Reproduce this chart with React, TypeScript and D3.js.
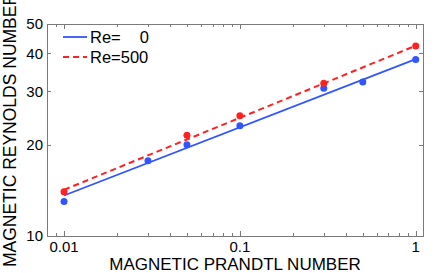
import React, { useEffect, useRef } from "react";
import * as d3 from "d3";

// magnetic Prandtl numbers of the runs
const pmRe0 = [0.01, 0.03, 0.05, 0.1, 0.3, 0.5, 1];
const rmRe0 = [13.0, 17.7, 20.0, 23.1, 30.7, 32.2, 38.2];
const pmRe500 = [0.01, 0.05, 0.1, 0.3, 1];
const rmRe500 = [14.0, 21.5, 24.9, 31.9, 42.3];

// power-law fits (endpoints)
const fitPm = [0.01, 1];
const fitRe0 = [13.6, 38.3];
const fitRe500 = [14.2, 42.4];

const xTicks = [0.01, 0.1, 1];
const xTickLabels = ["0.01", "0.1", "1"];
const yTicks = [10, 20, 30, 40, 50];
const legendLabels = ["Re=", "Re=500"];

const W = 436;
const H = 273;
const margin = { top: 24, right: 13, bottom: 37, left: 47 };
const FONT = "'Liberation Sans', Arial, Helvetica, sans-serif";
const BLUE = "#3154ff";
const RED = "#ff2020";
const FRAME = "#7a7a7a";

const App = () => {
  const ref = useRef<SVGSVGElement>(null);

  useEffect(() => {
    const svg = d3.select(ref.current);
    svg.selectAll("*").remove();

    const gw = W - margin.left - margin.right;
    const gh = H - margin.top - margin.bottom;

    const x = d3.scaleLog().domain([0.008, 1.1]).range([0, gw]);
    const y = d3.scaleLog().domain([10, 50]).range([gh, 0]);

    const g = svg.append("g").attr("transform", `translate(${margin.left},${margin.top})`);

    // minor x ticks
    const minor: number[] = [];
    [0.001, 0.01, 0.1, 1].forEach((d) => {
      for (let k = 1; k < 10; k++) {
        const v = d * k;
        if (v >= 0.008 && v <= 1.1) minor.push(v);
      }
    });

    const ticks = g.append("g").attr("stroke", FRAME).attr("stroke-width", 1);
    minor.forEach((v) => {
      const major = xTicks.includes(v);
      const len = major ? 5 : 3;
      const px = Math.round(x(v)) + 0.5;
      ticks.append("line").attr("x1", px).attr("x2", px).attr("y1", gh).attr("y2", gh - len);
      ticks.append("line").attr("x1", px).attr("x2", px).attr("y1", 0).attr("y2", len);
    });
    yTicks.slice(1, -1).forEach((v) => {
      const py = Math.round(y(v)) + 0.5;
      ticks.append("line").attr("x1", 0).attr("x2", 4).attr("y1", py).attr("y2", py);
      ticks.append("line").attr("x1", gw).attr("x2", gw - 4).attr("y1", py).attr("y2", py);
    });

    g.append("rect")
      .attr("x", 0.5)
      .attr("y", 0.5)
      .attr("width", gw)
      .attr("height", gh)
      .attr("fill", "none")
      .attr("stroke", FRAME)
      .attr("stroke-width", 1);

    // tick labels
    g.selectAll(".xl")
      .data(xTicks)
      .join("text")
      .attr("x", (d) => x(d))
      .attr("y", gh + 16)
      .attr("text-anchor", "middle")
      .attr("font-family", FONT)
      .attr("font-size", 15)
      .text((d, i) => xTickLabels[i]);

    g.selectAll(".yl")
      .data(yTicks)
      .join("text")
      .attr("x", -4)
      .attr("y", (d) => y(d))
      .attr("dy", "0.36em")
      .attr("text-anchor", "end")
      .attr("font-family", FONT)
      .attr("font-size", 15)
      .text((d) => String(d));

    // fits
    const line = d3
      .line<number>()
      .x((d, i) => x(fitPm[i]))
      .y((d) => y(d));

    g.append("path")
      .datum(fitRe0)
      .attr("fill", "none")
      .attr("stroke", BLUE)
      .attr("stroke-width", 1.8)
      .attr("d", line);

    g.append("path")
      .datum(fitRe500)
      .attr("fill", "none")
      .attr("stroke", RED)
      .attr("stroke-width", 2)
      .attr("stroke-dasharray", "6,4")
      .attr("d", line);

    // points
    g.selectAll(".p0")
      .data(rmRe0)
      .join("circle")
      .attr("cx", (d, i) => x(pmRe0[i]))
      .attr("cy", (d) => y(d))
      .attr("r", 3.5)
      .attr("fill", BLUE);

    g.selectAll(".p5")
      .data(rmRe500)
      .join("circle")
      .attr("cx", (d, i) => x(pmRe500[i]))
      .attr("cy", (d) => y(d))
      .attr("r", 3.5)
      .attr("fill", RED);

    // legend
    const lg = g.append("g").attr("transform", "translate(16,13)");
    lg.append("line").attr("x1", 0).attr("x2", 24).attr("y1", 0).attr("y2", 0)
      .attr("stroke", BLUE).attr("stroke-width", 1.8);
    lg.append("line").attr("x1", 0).attr("x2", 24).attr("y1", 20).attr("y2", 20)
      .attr("stroke", RED).attr("stroke-width", 2).attr("stroke-dasharray", "6,4");
    lg.append("text").attr("x", 27).attr("y", 0).attr("dy", "0.36em")
      .attr("font-family", FONT).attr("font-size", 16.5).text(legendLabels[0]);
    lg.append("text").attr("x", 86).attr("y", 0).attr("dy", "0.36em")
      .attr("text-anchor", "end")
      .attr("font-family", FONT).attr("font-size", 16.5).text("0");
    lg.append("text").attr("x", 27).attr("y", 20).attr("dy", "0.36em")
      .attr("font-family", FONT).attr("font-size", 16.5).text(legendLabels[1]);

    // axis labels
    svg.append("text")
      .attr("x", margin.left + gw / 2)
      .attr("y", 270)
      .attr("text-anchor", "middle")
      .attr("font-family", FONT)
      .attr("font-size", 17)
      .text("MAGNETIC PRANDTL NUMBER");

    svg.append("text")
      .attr("transform", "rotate(-90)")
      .attr("x", -(margin.top + gh / 2))
      .attr("y", 16)
      .attr("text-anchor", "middle")
      .attr("font-family", FONT)
      .attr("font-size", 17.5)
      .text("MAGNETIC REYNOLDS NUMBER");
  }, []);

  return (
    <svg
      ref={ref}
      width={W}
      height={H}
      style={{ position: "absolute", left: 0, top: 0, background: "#fff" }}
    />
  );
};

export default App;
